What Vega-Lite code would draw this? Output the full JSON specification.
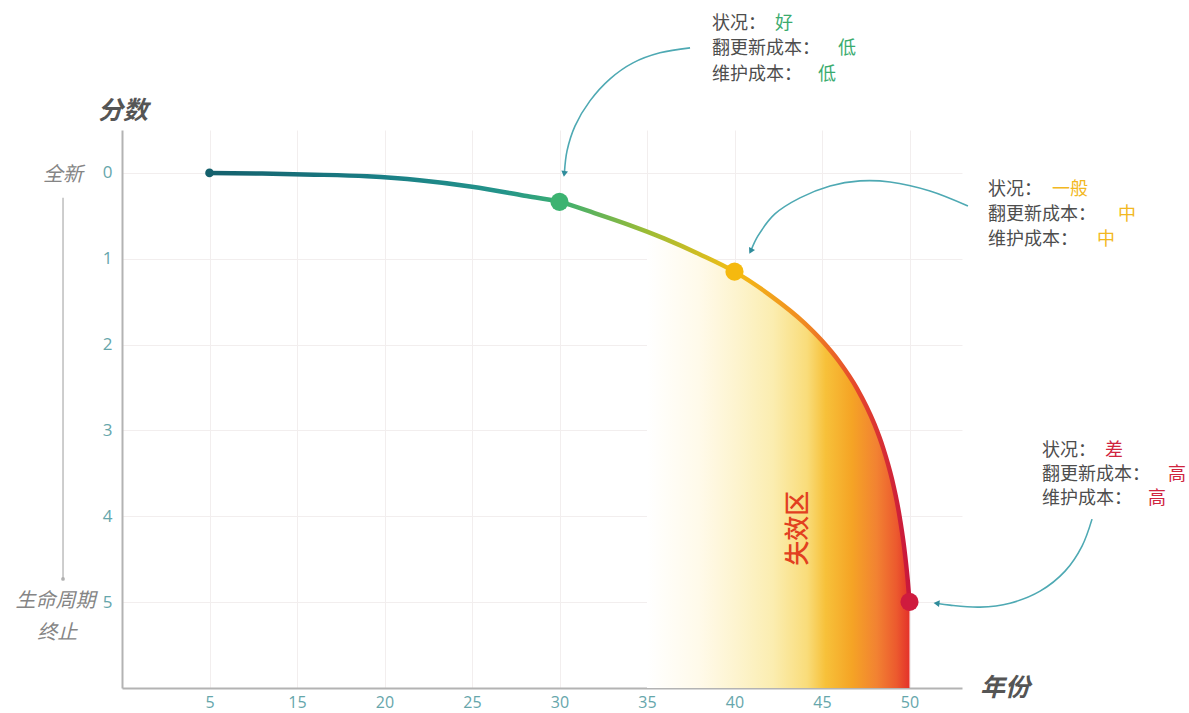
{
  "$schema": "https://vega.github.io/schema/vega-lite/v6.json",
  "autosize": "none",
  "width": 840,
  "height": 558,
  "padding": {"left": 122, "top": 130, "right": 227, "bottom": 25},
  "background": "#ffffff",
  "config": {"view": {"stroke": null}, "font": "Noto Sans CJK SC"},
  "datasets": {
    "curve": [
      {"x": 10, "y": 0}, {"x": 13, "y": 0.008}, {"x": 16, "y": 0.02}, {"x": 19, "y": 0.04},
      {"x": 22, "y": 0.085}, {"x": 25, "y": 0.16}, {"x": 28, "y": 0.265}, {"x": 30, "y": 0.337},
      {"x": 32, "y": 0.467}, {"x": 34, "y": 0.607}, {"x": 35, "y": 0.684}, {"x": 36, "y": 0.766},
      {"x": 38, "y": 0.947}, {"x": 40, "y": 1.15}, {"x": 42, "y": 1.42}, {"x": 44, "y": 1.749},
      {"x": 45, "y": 1.955}, {"x": 46, "y": 2.202}, {"x": 47, "y": 2.512}, {"x": 48, "y": 2.93},
      {"x": 48.5, "y": 3.208}, {"x": 49, "y": 3.569}, {"x": 49.4, "y": 3.963}, {"x": 49.7, "y": 4.373},
      {"x": 49.9, "y": 4.751}, {"x": 50, "y": 4.997}
    ],
    "dots": [
      {"x": 10, "y": 0, "s": "start"},
      {"x": 30, "y": 0.337, "s": "good"},
      {"x": 40, "y": 1.15, "s": "mid"},
      {"x": 50, "y": 4.997, "s": "bad"}
    ],
    "arrows": [
      {"g": 1, "i": 1, "x": 37.46, "y": -1.457}, {"g": 1, "i": 2, "x": 35.74, "y": -1.399},
      {"g": 1, "i": 3, "x": 34.2, "y": -1.282}, {"g": 1, "i": 4, "x": 32.89, "y": -1.096},
      {"g": 1, "i": 5, "x": 31.74, "y": -0.839}, {"g": 1, "i": 6, "x": 30.89, "y": -0.548},
      {"g": 1, "i": 7, "x": 30.43, "y": -0.256}, {"g": 1, "i": 8, "x": 30.28, "y": 0.0},
      {"g": 2, "i": 1, "x": 53.34, "y": 0.385}, {"g": 2, "i": 2, "x": 51.17, "y": 0.21},
      {"g": 2, "i": 3, "x": 48.89, "y": 0.105}, {"g": 2, "i": 4, "x": 47.17, "y": 0.093},
      {"g": 2, "i": 5, "x": 45.46, "y": 0.152}, {"g": 2, "i": 6, "x": 43.74, "y": 0.291},
      {"g": 2, "i": 7, "x": 42.31, "y": 0.478}, {"g": 2, "i": 8, "x": 41.34, "y": 0.734},
      {"g": 2, "i": 9, "x": 40.95, "y": 0.9},
      {"g": 3, "i": 1, "x": 60.43, "y": 4.033}, {"g": 3, "i": 2, "x": 59.86, "y": 4.347},
      {"g": 3, "i": 3, "x": 58.89, "y": 4.639}, {"g": 3, "i": 4, "x": 57.46, "y": 4.872},
      {"g": 3, "i": 5, "x": 55.74, "y": 5.012}, {"g": 3, "i": 6, "x": 54.03, "y": 5.058},
      {"g": 3, "i": 7, "x": 52.31, "y": 5.035}, {"g": 3, "i": 8, "x": 51.6, "y": 5.015}
    ],
    "notes": [
      {"x": 38.71, "y": -1.74, "t": "状况：", "c": "label"},
      {"x": 42.31, "y": -1.74, "t": "好", "c": "good"},
      {"x": 38.71, "y": -1.44, "t": "翻更新成本：", "c": "label"},
      {"x": 45.91, "y": -1.44, "t": "低", "c": "good"},
      {"x": 38.71, "y": -1.14, "t": "维护成本：", "c": "label"},
      {"x": 44.77, "y": -1.14, "t": "低", "c": "good"},
      {"x": 54.49, "y": 0.2, "t": "状况：", "c": "label"},
      {"x": 58.14, "y": 0.2, "t": "一般", "c": "mid"},
      {"x": 54.49, "y": 0.49, "t": "翻更新成本：", "c": "label"},
      {"x": 61.91, "y": 0.49, "t": "中", "c": "mid"},
      {"x": 54.49, "y": 0.78, "t": "维护成本：", "c": "label"},
      {"x": 60.71, "y": 0.78, "t": "中", "c": "mid"},
      {"x": 57.57, "y": 3.24, "t": "状况：", "c": "label"},
      {"x": 61.17, "y": 3.24, "t": "差", "c": "bad"},
      {"x": 57.57, "y": 3.52, "t": "翻更新成本：", "c": "label"},
      {"x": 64.77, "y": 3.52, "t": "高", "c": "bad"},
      {"x": 57.57, "y": 3.8, "t": "维护成本：", "c": "label"},
      {"x": 63.63, "y": 3.8, "t": "高", "c": "bad"}
    ],
    "side": [
      {"x": 1.63, "y": 0.02, "t": "全新"},
      {"x": 1.2, "y": 4.99, "t": "生命周期"},
      {"x": 1.3, "y": 5.36, "t": "终止"}
    ],
    "sideline": [
      {"x": 1.63, "y": 0.29}, {"x": 1.63, "y": 4.73}
    ],
    "titles": [
      {"x": 5.06, "y": -0.72, "t": "分数"},
      {"x": 55.46, "y": 6.0, "t": "年份"}
    ],
    "zone": [
      {"x": 43.63, "y": 4.14, "t": "失效区"}
    ]
  },
  "encoding": {
    "x": {
      "field": "x", "type": "quantitative",
      "scale": {"domain": [5, 53], "nice": false, "zero": false},
      "axis": {
        "values": [10, 15, 20, 25, 30, 35, 40, 45, 50],
        "labelExpr": "datum.value == 10 ? '5' : datum.label",
        "title": null, "grid": true, "gridColor": "#f2eeee", "gridWidth": 1,
        "ticks": false, "domainColor": "#b3b3b3", "domainWidth": 2,
        "labelColor": "#66a6ab", "labelFont": "Open Sans", "labelFontSize": 16, "labelPadding": 6
      }
    },
    "y": {
      "field": "y", "type": "quantitative",
      "scale": {"domain": [-0.5, 6], "reverse": true, "nice": false, "zero": false},
      "axis": {
        "values": [0, 1, 2, 3, 4, 5],
        "title": null, "grid": true, "gridColor": "#f2eeee", "gridWidth": 1,
        "ticks": false, "domainColor": "#b3b3b3", "domainWidth": 2,
        "labelColor": "#66a6ab", "labelFont": "Open Sans", "labelFontSize": 17, "labelPadding": 10
      }
    }
  },
  "layer": [
    {
      "data": {"name": "curve"},
      "transform": [{"filter": "datum.x >= 35"}],
      "mark": {
        "type": "area", "interpolate": "monotone", "opacity": 1,
        "fill": {
          "gradient": "linear", "x1": 0, "x2": 1, "y1": 0, "y2": 0,
          "stops": [
            {"offset": 0, "color": "#ffffff"},
            {"offset": 0.2, "color": "#fffaea"},
            {"offset": 0.34, "color": "#fdf4cf"},
            {"offset": 0.48, "color": "#fbedb0"},
            {"offset": 0.61, "color": "#f9dc7a"},
            {"offset": 0.68, "color": "#f7c13a"},
            {"offset": 0.78, "color": "#f5a425"},
            {"offset": 0.875, "color": "#f28232"},
            {"offset": 0.95, "color": "#ec5a2e"},
            {"offset": 1, "color": "#e4322a"}
          ]
        }
      },
      "encoding": {"y2": {"datum": 6}}
    },
    {
      "data": {"name": "curve"},
      "mark": {
        "type": "line", "interpolate": "monotone", "strokeWidth": 4.5, "strokeCap": "round",
        "stroke": {
          "gradient": "linear", "x1": 0, "x2": 1, "y1": 0, "y2": 0,
          "stops": [
            {"offset": 0, "color": "#14606c"},
            {"offset": 0.25, "color": "#1a7f86"},
            {"offset": 0.42, "color": "#24948a"},
            {"offset": 0.5, "color": "#3aae72"},
            {"offset": 0.625, "color": "#9cbc35"},
            {"offset": 0.75, "color": "#f3bd16"},
            {"offset": 0.85, "color": "#f08a22"},
            {"offset": 0.925, "color": "#e5462c"},
            {"offset": 1, "color": "#c8163c"}
          ]
        }
      }
    },
    {
      "data": {"name": "dots"},
      "transform": [{"filter": "datum.s == 'start'"}],
      "mark": {"type": "point", "filled": true, "opacity": 1, "size": 75, "color": "#14606c"}
    },
    {
      "data": {"name": "dots"},
      "transform": [{"filter": "datum.s != 'start'"}],
      "mark": {"type": "point", "filled": true, "opacity": 1, "size": 330},
      "encoding": {
        "color": {
          "field": "s", "type": "nominal", "legend": null,
          "scale": {"domain": ["good", "mid", "bad"], "range": ["#3cb371", "#f5b90f", "#cf1b3e"]}
        }
      }
    },
    {
      "data": {"name": "arrows"},
      "mark": {"type": "line", "interpolate": "catmull-rom", "strokeWidth": 1.6, "color": "#4ea9b3"},
      "encoding": {
        "detail": {"field": "g", "type": "nominal"},
        "order": {"field": "i", "type": "quantitative"}
      }
    },
    {
      "data": {"name": "arrows"},
      "transform": [{"filter": "datum.g == 1 && datum.i == 8"}],
      "mark": {"type": "point", "shape": "triangle", "filled": true, "opacity": 1, "size": 45, "angle": 188, "color": "#2f8c9b"}
    },
    {
      "data": {"name": "arrows"},
      "transform": [{"filter": "datum.g == 2 && datum.i == 9"}],
      "mark": {"type": "point", "shape": "triangle", "filled": true, "opacity": 1, "size": 45, "angle": 207, "color": "#2f8c9b"}
    },
    {
      "data": {"name": "arrows"},
      "transform": [{"filter": "datum.g == 3 && datum.i == 8"}],
      "mark": {"type": "point", "shape": "triangle", "filled": true, "opacity": 1, "size": 45, "angle": 277, "color": "#2f8c9b"}
    },
    {
      "data": {"name": "notes"},
      "mark": {"type": "text", "align": "left", "baseline": "middle", "fontSize": 18, "font": "Noto Sans CJK SC"},
      "encoding": {
        "text": {"field": "t"},
        "color": {
          "field": "c", "type": "nominal", "legend": null,
          "scale": {"domain": ["label", "good", "mid", "bad"], "range": ["#4d4d4d", "#3aab6e", "#f2b822", "#d0243e"]}
        }
      }
    },
    {
      "data": {"name": "sideline"},
      "mark": {"type": "line", "strokeWidth": 1.5, "color": "#bdbdbd"}
    },
    {
      "data": {"name": "sideline"},
      "transform": [{"filter": "datum.y > 1"}],
      "mark": {"type": "point", "filled": true, "opacity": 1, "size": 14, "color": "#b0b0b0"}
    },
    {
      "data": {"name": "side"},
      "mark": {"type": "text", "align": "center", "baseline": "middle", "fontSize": 20, "fontStyle": "italic", "color": "#858585", "font": "Noto Sans CJK SC"},
      "encoding": {"text": {"field": "t"}}
    },
    {
      "data": {"name": "titles"},
      "mark": {"type": "text", "align": "center", "baseline": "middle", "fontSize": 25, "fontStyle": "italic", "fontWeight": "bold", "color": "#555555", "font": "Noto Sans CJK SC"},
      "encoding": {"text": {"field": "t"}}
    },
    {
      "data": {"name": "zone"},
      "mark": {"type": "text", "align": "center", "baseline": "middle", "fontSize": 25, "angle": 270, "fontWeight": 500, "color": "#e2401f", "font": "Noto Sans CJK SC"},
      "encoding": {"text": {"field": "t"}}
    }
  ],
  "resolve": {"scale": {"color": "independent"}}
}
